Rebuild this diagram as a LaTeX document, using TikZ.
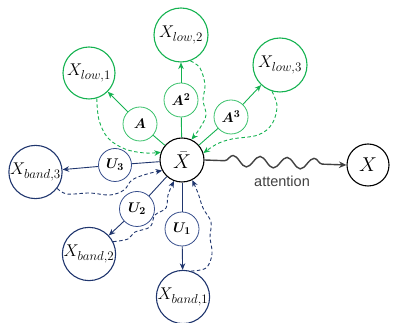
\RequirePackage{fix-cm}
\documentclass[tikz,border=0pt]{standalone}
\usepackage{bm}
\usepackage{fontspec}
\newfontfamily\attfont{Liberation Sans}
\DeclareMathSizes{17}{17}{13}{10}
\DeclareMathSizes{14}{14}{10.5}{8}
\usetikzlibrary{arrows.meta,decorations.pathmorphing}
\definecolor{gr}{RGB}{20,178,80}
\definecolor{grl}{RGB}{55,192,105}
\definecolor{nv}{RGB}{32,54,110}
\definecolor{nvl}{RGB}{55,78,140}
\definecolor{wv}{RGB}{65,65,65}
\tikzset{
  big/.style={circle,draw,line width=1.1pt,inner sep=0pt,font=\fontsize{17}{20}\selectfont},
  lowc/.style={big,draw=gr},
  bandc/.style={big,draw=nv},
  opg/.style={circle,draw=grl,line width=0.8pt,inner sep=0pt,minimum size=34pt,font=\fontsize{14}{16}\selectfont},
  opb/.style={circle,draw=nvl,line width=0.8pt,inner sep=0pt,minimum size=34pt,font=\fontsize{14}{16}\selectfont},
  tip/.style={-{Stealth[length=6.5pt,width=5.5pt,inset=2pt]}},
  gline/.style={draw=gr,line width=0.9pt},
  bline/.style={draw=nv,line width=0.9pt},
  gdash/.style={draw=gr,line width=0.9pt,dash pattern=on 3.5pt off 2.5pt,tip},
  bdash/.style={draw=nv,line width=0.9pt,dash pattern=on 3.5pt off 2.5pt,tip},
}
\begin{document}
\begin{tikzpicture}[x=1pt,y=1pt]
\useasboundingbox (0,0) rectangle (393,323);
% nodes
\node[big,draw=black,minimum size=44pt,font=\fontsize{20}{22}\selectfont] (xbar) at (182,163) {$\bar{X}$};
\node[big,draw=black,minimum size=42pt,font=\fontsize{20}{22}\selectfont] (X) at (368,158) {$X$};
\node[lowc,minimum size=52pt] (low1) at (89,250) {$X_{low,1}$};
\node[lowc,minimum size=54pt] (low2) at (181,288) {$X_{low,2}$};
\node[lowc,minimum size=54pt] (low3) at (280,258) {$X_{low,3}$};
\node[opg] (A) at (140,199) {$\bm{A}$};
\node[opg] (A2) at (181,223) {$\bm{A^2}$};
\node[opg] (A3) at (231,206) {$\bm{A^3}$};
\node[opb,minimum size=33pt] (U3) at (115,158) {$\bm{U_3}$};
\node[opb,minimum size=35pt] (U2) at (137,114) {$\bm{U_2}$};
\node[opb] (U1) at (182,94) {$\bm{U_1}$};
\node[bandc,minimum size=53pt] (band3) at (35.5,151) {$X_{band,3}$};
\node[bandc,minimum size=52pt] (band2) at (89,69) {$X_{band,2}$};
\node[bandc,minimum size=52pt] (band1) at (183,26) {$X_{band,1}$};
% solid connectors
\draw[gline] (xbar) -- (A);
\draw[gline,tip] (A) -- (low1);
\draw[gline] (xbar) -- (A2);
\draw[gline,tip] (A2) -- (low2);
\draw[gline] (xbar) -- (A3);
\draw[gline,tip] (A3) -- (low3);
\draw[bline] (xbar) -- (U3);
\draw[bline,tip] (U3) -- (band3);
\draw[bline] (xbar) -- (U2);
\draw[bline,tip] (U2) -- (band2);
\draw[bline] (xbar) -- (U1);
\draw[bline,tip] (U1) -- (band1);
% dashed feedback
\draw[gdash] plot[smooth,tension=0.6] coordinates {(low1.-73) (99,203) (108,185) (125,174) (145,170) (xbar.160)};
\draw[gdash] plot[smooth,tension=0.6] coordinates {(low2.-70) (200,255) (205,238) (203,223) (206,208) (200,195) (xbar.65)};
\draw[gdash] plot[smooth,tension=0.6] coordinates {(low3.-107) (277,217) (272,199) (258,188) (232,184) (217,179) (xbar.18)};
\draw[bdash] plot[smooth,tension=0.6] coordinates {(band3.-37) (67,129) (90,130) (110,128) (124,133) (132,143) (147,149) (xbar.-152)};
\draw[bdash] plot[smooth,tension=0.6] coordinates {(band2.27) (128,84) (135,91) (150,96) (155,108) (166,115) (168,128) (xbar.-111)};
\draw[bdash] plot[smooth,tension=0.6] coordinates {(band1.73) (206,55) (212,69) (210,86) (211,101) (203,115) (198,130) (xbar.-63)};
% attention
\draw[draw=wv,line width=1.4pt,-{Stealth[length=7.5pt,width=6.5pt,inset=2.5pt]},decorate,decoration={snake,amplitude=5.5pt,segment length=27pt,pre length=20pt,post length=14pt}] (xbar.east) -- (X.west);
\node[font=\attfont\fontsize{14.5}{16}\selectfont,text=wv] (att) at (282,142) {attention};
\end{tikzpicture}
\end{document}
